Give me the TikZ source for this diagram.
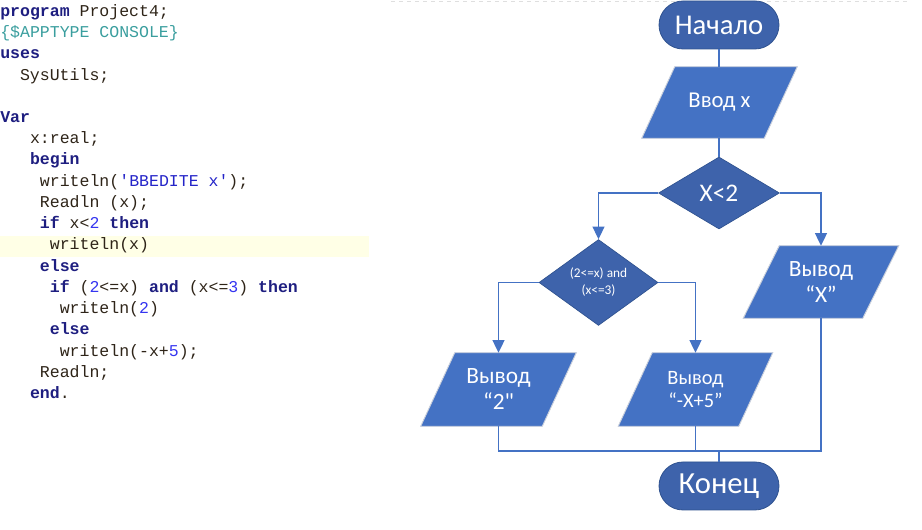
\documentclass[tikz,border=0pt]{standalone}
\usepackage{fontspec}
\setmainfont{Carlito}
\newfontfamily\calnolig{Carlito}[Ligatures=TeXOff]
\newfontfamily\codefont{Liberation Mono}[Ligatures=TeXOff]
\usetikzlibrary{shapes.geometric,arrows.meta,calc}
\pgfdeclarelayer{background}
\pgfsetlayers{background,main}
\definecolor{termc}{HTML}{3E63AB}
\definecolor{termd}{HTML}{2F528F}
\definecolor{ioc}{HTML}{4472C4}
\definecolor{iod}{HTML}{C9CFDB}
\definecolor{linec}{HTML}{4472C4}
\definecolor{kwc}{HTML}{1E1E80}
\definecolor{codetext}{HTML}{2E2418}
\definecolor{dirc}{HTML}{3A9E9E}
\definecolor{numc}{HTML}{3535F0}
\definecolor{strc}{HTML}{2424C8}
\definecolor{hlc}{HTML}{FFFFE6}
\newcommand\kw[1]{{\bfseries\color{kwc}#1}}
\newcommand\cnum[1]{{\color{numc}#1}}
\newcommand\cstr[1]{{\color{strc}#1}}
\newcommand\cdir[1]{{\color{dirc}#1}}
\tikzset{
  codeline/.style={anchor=base west, inner sep=0pt, text=codetext,
    font=\codefont\fontsize{12.4}{14}\selectfont},
  term/.style={rectangle, rounded corners=18pt, minimum width=90pt, minimum height=36pt,
    fill=termc, draw=termd, line width=0.6pt, text=white, inner sep=0pt},
  io/.style={rectangle, inner sep=0pt, text=white, align=center},
  iodraw/.style={fill=ioc, draw=iod, line width=0.7pt},
  dec/.style={diamond, inner sep=0pt, fill=termc, draw=termd, line width=0.5pt,
    text=white, align=center},
  conn/.style={draw=linec, line width=1pt},
  arr/.style={conn, -{Triangle[length=9.5pt,width=9pt]}},
}
\begin{document}
\begin{tikzpicture}[x=0.75pt,y=-0.75pt]
\useasboundingbox (0,0) rectangle (922,530);
% top dashed line
\draw[gray!25, dashed, line width=0.6pt] (391,1.5) -- (910,1.5);
% code panel
\fill[hlc] (0,236) rectangle (369,257);
\node[codeline] (c0) at (0,16.5) {\kw{program} Project4;};
\node[codeline] (c1) at (0,37.7) {\cdir{\{\$APPTYPE CONSOLE\}}};
\node[codeline] (c2) at (0,58.9) {\kw{uses}};
\node[codeline] (c3) at (19.8,80.2) {SysUtils;};
\node[codeline] (c5) at (0,122.6) {\kw{Var}};
\node[codeline] (c6) at (29.8,143.8) {x:real;};
\node[codeline] (c7) at (29.8,165.0) {\kw{begin}};
\node[codeline] (c8) at (39.7,186.3) {writeln(\cstr{'BBEDITE x'});};
\node[codeline] (c9) at (39.7,207.5) {Readln (x);};
\node[codeline] (c10) at (39.7,228.7) {\kw{if} x<\cnum{2} \kw{then}};
\node[codeline] (c11) at (49.6,250.0) {writeln(x)};
\node[codeline] (c12) at (39.7,271.2) {\kw{else}};
\node[codeline] (c13) at (49.6,292.4) {\kw{if} (\cnum{2}<=x) \kw{and} (x<=\cnum{3}) \kw{then}};
\node[codeline] (c14) at (59.5,313.6) {writeln(\cnum{2})};
\node[codeline] (c15) at (49.6,334.9) {\kw{else}};
\node[codeline] (c16) at (59.5,356.1) {writeln(-x+\cnum{5});};
\node[codeline] (c17) at (39.7,377.3) {Readln;};
\node[codeline] (c18) at (29.8,398.5) {\kw{end}.};
% flowchart nodes
\node[term, font=\fontsize{21.5}{24}\selectfont] (start) at (719,25) {Начало};
\node[io, minimum width=91.5pt, minimum height=53.25pt, font=\fontsize{17}{20}\selectfont] (inp) at (719.5,102.5) {Ввод x};
\node[dec, minimum width=90.75pt, minimum height=54pt, font=\fontsize{19}{22}\selectfont] (d1) at (719,193) {X<2};
\node[dec, minimum width=89.25pt, minimum height=53.25pt, font=\fontsize{10}{12.75}\selectfont] (d2) at (598.5,282.5) {(2<=x) and\\(x<=3)};
\node[io, minimum width=89.25pt, minimum height=54pt, font=\fontsize{17.5}{19.5}\selectfont] (outX) at (821,282) {Вывод\\“X”};
\node[io, minimum width=90.75pt, minimum height=54.75pt, font=\calnolig\fontsize{17.5}{19.5}\selectfont] (out2) at (498.5,389.5) {Вывод\\“2"};
\node[io, minimum width=90pt, minimum height=54.75pt, font=\fontsize{15.3}{17.3}\selectfont] (out5) at (695.5,389.5) {Вывод\\“-X+5”};
\node[term, font=\fontsize{23}{26}\selectfont] (stop) at (719,486) {Конец};
\begin{pgfonlayer}{background}
\foreach \n/\s in {inp/33,outX/36,out2/34,out5/34}
  \draw[iodraw] ($(\n.north west)+(\s/2,0)$) -- ($(\n.north east)+(\s/2,0)$)
     -- ($(\n.south east)+(-\s/2,0)$) -- ($(\n.south west)+(-\s/2,0)$) -- cycle;
\end{pgfonlayer}
% connectors
\draw[conn] (start.south) -- (start.south |- inp.north);
\draw[conn] (inp.south -| d1.north) -- (d1.north);
\draw[arr] (d1.west) -| (d2.north);
\draw[arr] (d1.east) -| (outX.north);
\draw[arr] (d2.west) -| (out2.north);
\draw[arr] (d2.east) -| (out5.north);
\coordinate (mR) at (821,451);
\coordinate (mC) at (719,451);
\draw[conn] (out2.south) |- (mR) -- (outX.south);
\draw[conn] (out5.south) -- (out5.south |- mR);
\draw[conn] (mC) -- (stop.north);
\end{tikzpicture}
\end{document}
